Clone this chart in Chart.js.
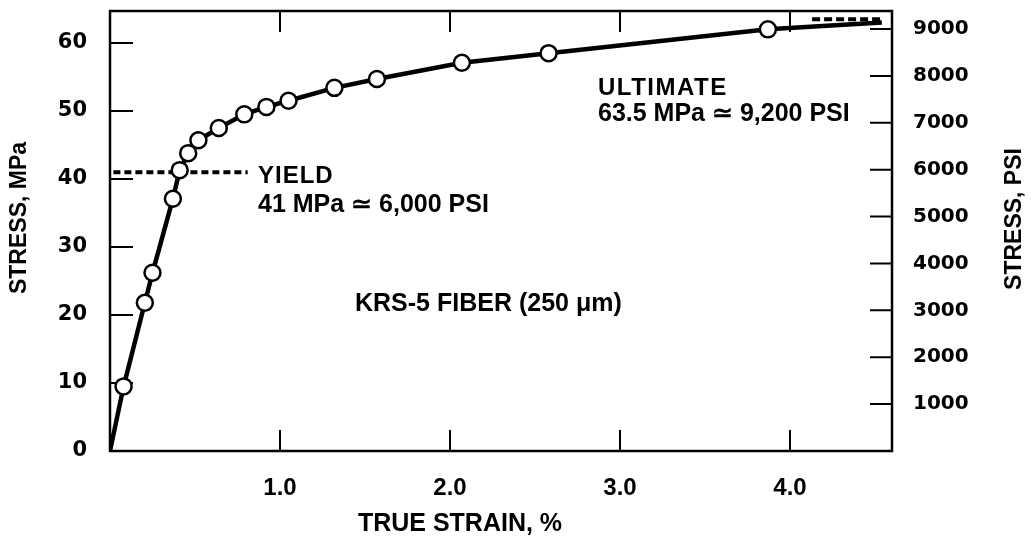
<!DOCTYPE html>
<html>
<head>
<meta charset="utf-8">
<script src="https://cdn.jsdelivr.net/npm/chart.js@4.4.1/dist/chart.umd.min.js"></script>
<style>
  html, body { margin:0; padding:0; background:#fff; }
  #wrap { width:1032px; height:539px; }
</style>
</head>
<body>
<div id="wrap"><canvas id="c" width="1032" height="539"></canvas></div>
<script>
// stress-strain curve
const strain = [0, 0.08, 0.205, 0.25, 0.37, 0.41, 0.46, 0.52, 0.64, 0.79, 0.92, 1.05, 1.32, 1.57, 2.07, 2.58, 3.87, 4.54];
const stress = [0, 9.5, 21.8, 26.2, 37.1, 41.3, 43.8, 45.7, 47.5, 49.5, 50.6, 51.5, 53.4, 54.7, 57.1, 58.5, 62.0, 63.0];
const marked = [0, 1, 1, 1, 1, 1, 1, 1, 1, 1, 1, 1, 1, 1, 1, 1, 1, 0];

// yield / ultimate dashed markers
const yieldStrain = [0.02, 0.81];
const yieldStress = [41, 41];
const ultStrain = [4.13, 4.54];
const ultStress = [63.5, 63.5];

const xTicks = [1, 2, 3, 4];
const mpaTicks = [0, 10, 20, 30, 40, 50, 60];
const psiTicks = [1000, 2000, 3000, 4000, 5000, 6000, 7000, 8000, 9000];

const MPA_TO_PSI = 145.038;
const Y_MAX = 64.7;

const pts = (xs, ys) => xs.map((x, i) => ({ x, y: ys[i] }));

const bold = (family, size) => ({ family, size, weight: 'bold' });

// frame + inward tick marks (under the data, circles cover them)
const framePlugin = {
  id: 'frame',
  beforeDatasetsDraw(chart) {
    const { ctx, chartArea: a, scales } = chart;
    ctx.save();
    ctx.strokeStyle = '#000';
    ctx.lineWidth = 2.5;
    ctx.strokeRect(a.left, a.top, a.right - a.left, a.bottom - a.top);
    ctx.lineWidth = 2;
    ctx.beginPath();
    scales.x.ticks.forEach(t => {
      const px = scales.x.getPixelForValue(t.value);
      ctx.moveTo(px, a.bottom); ctx.lineTo(px, a.bottom - 21);
      ctx.moveTo(px, a.top); ctx.lineTo(px, a.top + 21);
    });
    scales.y.ticks.forEach(t => {
      if (t.value === 0) return;
      const py = scales.y.getPixelForValue(t.value);
      ctx.moveTo(a.left, py); ctx.lineTo(a.left + 23, py);
    });
    scales.y2.ticks.forEach(t => {
      const py = scales.y2.getPixelForValue(t.value);
      ctx.moveTo(a.right, py); ctx.lineTo(a.right - 22, py);
    });
    ctx.stroke();
    ctx.restore();
  }
};

// titles and annotations
const textPlugin = {
  id: 'texts',
  afterDraw(chart) {
    const { ctx } = chart;
    const put = (s, x, y, size, spacing) => {
      ctx.font = 'bold ' + size + 'px "Liberation Sans", Arial, sans-serif';
      ctx.letterSpacing = (spacing || 0) + 'px';
      ctx.fillText(s, x, y);
      ctx.letterSpacing = '0px';
    };
    ctx.save();
    ctx.fillStyle = '#000';
    ctx.textBaseline = 'middle';
    ctx.textAlign = 'left';

    put('YIELD', 258, 176, 24, 1);
    put('41 MPa \u2243 6,000 PSI', 258, 205, 25);
    put('ULTIMATE', 598, 88, 24, 1.5);
    put('63.5 MPa \u2243 9,200 PSI', 598, 114, 25);
    put('KRS-5 FIBER (250 \u03bcm)', 355, 304, 25);

    ctx.textAlign = 'center';
    put('TRUE STRAIN, %', 460, 524, 25);

    ctx.save();
    ctx.translate(20, 218);
    ctx.rotate(-Math.PI / 2);
    put('STRESS, MPa', 0, 0, 23);
    ctx.restore();

    ctx.save();
    ctx.translate(1015, 219);
    ctx.rotate(-Math.PI / 2);
    put('STRESS, PSI', 0, 0, 23);
    ctx.restore();

    ctx.restore();
  }
};

const noPad = s => { s.paddingTop = 0; s.paddingBottom = 0; s.paddingLeft = 0; s.paddingRight = 0; };

new Chart(document.getElementById('c'), {
  type: 'scatter',
  data: {
    datasets: [
      {
        data: pts(strain, stress),
        showLine: true,
        borderColor: '#000',
        borderWidth: 4.5,
        pointRadius: marked.map(m => m ? 8 : 0),
        pointBackgroundColor: '#fff',
        pointBorderColor: '#000',
        pointBorderWidth: 2.5,
        order: 0
      },
      {
        data: pts(yieldStrain, yieldStress),
        showLine: true,
        borderColor: '#000',
        borderWidth: 4,
        borderDash: [7, 4],
        pointRadius: 0,
        order: 1
      },
      {
        data: pts(ultStrain, ultStress),
        showLine: true,
        borderColor: '#000',
        borderWidth: 4,
        borderDash: [8, 4],
        pointRadius: 0,
        order: 1
      }
    ]
  },
  options: {
    responsive: false,
    animation: false,
    devicePixelRatio: 1,
    layout: { padding: { top: 11, left: 0, right: 0, bottom: 0 } },
    plugins: { legend: { display: false }, tooltip: { enabled: false } },
    scales: {
      x: {
        type: 'linear', position: 'bottom', min: 0, max: 4.6,
        afterBuildTicks: s => { s.ticks = xTicks.map(v => ({ value: v })); },
        afterFit: s => { s.height = 88; noPad(s); },
        grid: { display: false, drawTicks: false }, border: { display: false },
        ticks: {
          color: '#000', font: bold('Liberation Sans', 24), padding: 23,
          maxRotation: 0, autoSkip: false,
          callback: v => Number(v).toFixed(1)
        }
      },
      y: {
        type: 'linear', position: 'left', min: 0, max: Y_MAX,
        afterBuildTicks: s => { s.ticks = mpaTicks.map(v => ({ value: v })); },
        afterFit: s => { s.width = 110; noPad(s); },
        grid: { display: false, drawTicks: false }, border: { display: false },
        ticks: { color: '#000', font: bold('DejaVu Sans', 21), padding: 23 }
      },
      y2: {
        type: 'linear', position: 'right', min: 0, max: Y_MAX * MPA_TO_PSI,
        afterBuildTicks: s => { s.ticks = psiTicks.map(v => ({ value: v })); },
        afterFit: s => { s.width = 140; noPad(s); },
        grid: { display: false, drawTicks: false }, border: { display: false },
        ticks: { color: '#000', font: bold('DejaVu Sans', 20), padding: 21, callback: v => String(v) }
      }
    }
  },
  plugins: [framePlugin, textPlugin]
});
</script>
</body>
</html>
